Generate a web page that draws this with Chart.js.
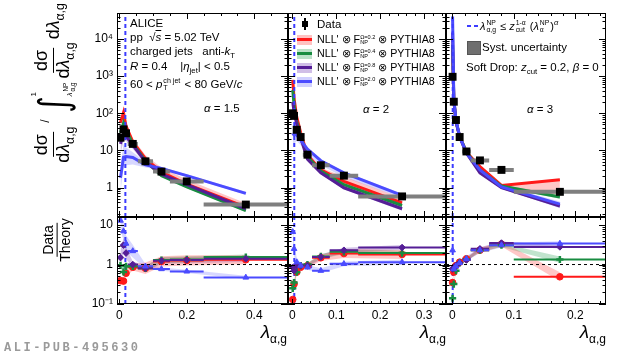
<!DOCTYPE html>
<html><head><meta charset="utf-8">
<script src="https://cdn.jsdelivr.net/npm/chart.js@4.4.1/dist/chart.umd.min.js"></script>
<style>
html,body{margin:0;padding:0;background:#fff;}
#wrap{position:relative;width:620px;height:357px;overflow:hidden;font-family:'Liberation Sans',Arial,Helvetica,sans-serif;color:#000;background:#fff}
#wrap canvas{position:absolute;left:0;top:0}
.t{position:absolute;white-space:nowrap;line-height:1;z-index:5;font-size:11.5px}
sub,sup{line-height:0;font-size:0.68em}
.ss{display:inline-flex;flex-direction:column;vertical-align:middle;font-size:0.62em;line-height:1.0;margin:0 1px}
.t.lg{font-size:10.7px}
.lg .ss{font-size:0.52em;margin:0}
.frac{display:inline-flex;flex-direction:column;align-items:center;vertical-align:middle;line-height:1.1}
.frac>span:first-child{border-bottom:1.3px solid #000;padding:0 2px 1px}
.lbox{position:absolute;width:15px;height:10px;z-index:5}
.lbox i{position:absolute;left:0;right:0;top:3.5px;height:3px}
</style></head>
<body><div id="wrap">
<!-- top-left annotations -->
<div class="t" style="left:130px;top:18px">ALICE</div>
<div class="t" style="left:130px;top:32px">pp &nbsp;√<span style="text-decoration:overline"><i>s</i></span> = 5.02 TeV</div>
<div class="t" style="left:130px;top:46px">charged jets &nbsp; anti-<i>k</i><sub>T</sub></div>
<div class="t" style="left:130px;top:60.5px"><i>R</i> = 0.4 &nbsp;&nbsp; |<i>η</i><sub>jet</sub>| &lt; 0.5</div>
<div class="t" style="left:130px;top:78px">60 &lt; <i>p</i><span class="ss"><span>ch jet</span><span>T</span></span> &lt; 80 GeV/<i>c</i></div>
<div class="t" style="left:204px;top:103px"><i>α</i> = 1.5</div>
<div class="t" style="left:363px;top:104px"><i>α</i> = 2</div>
<div class="t" style="left:527px;top:104px"><i>α</i> = 3</div>
<!-- legend middle -->
<div style="position:absolute;left:302px;top:21px;width:6px;height:6px;background:#000;z-index:5"></div>
<div style="position:absolute;left:304px;top:18px;width:2px;height:12px;background:#000;z-index:5"></div>
<div class="t" style="left:317px;top:18.5px">Data</div>
<div class="lbox" style="left:297px;top:34.5px;background:rgba(255,80,80,0.35)"><i style="background:rgb(255,25,25)"></i></div>
<div class="t lg" style="left:317px;top:34px">NLL' ⊗ F<span class="ss"><span>Ω=0.2</span><span>NP</span></span> ⊗ PYTHIA8</div>
<div class="lbox" style="left:297px;top:48.5px;background:rgba(60,170,100,0.35)"><i style="background:rgb(25,140,65)"></i></div>
<div class="t lg" style="left:317px;top:48px">NLL' ⊗ F<span class="ss"><span>Ω=0.4</span><span>NP</span></span> ⊗ PYTHIA8</div>
<div class="lbox" style="left:297px;top:62.5px;background:rgba(120,70,185,0.35)"><i style="background:rgb(85,30,150)"></i></div>
<div class="t lg" style="left:317px;top:62px">NLL' ⊗ F<span class="ss"><span>Ω=0.8</span><span>NP</span></span> ⊗ PYTHIA8</div>
<div class="lbox" style="left:297px;top:76.5px;background:rgba(110,110,255,0.32)"><i style="background:rgb(75,75,255)"></i></div>
<div class="t lg" style="left:317px;top:76px">NLL' ⊗ F<span class="ss"><span>Ω=2.0</span><span>NP</span></span> ⊗ PYTHIA8</div>
<!-- legend right -->
<div style="position:absolute;left:467px;top:25px;width:4px;height:2px;background:rgb(60,60,255);z-index:5"></div>
<div style="position:absolute;left:474px;top:25px;width:4px;height:2px;background:rgb(60,60,255);z-index:5"></div>
<div class="t" style="left:480px;top:20px;font-size:11px"><i>λ</i><span class="ss"><span>NP</span><span>α,g</span></span> ≤ <i>z</i><span class="ss"><span>1-α</span><span>cut</span></span> (<i>λ</i><span class="ss"><span>NP</span><span>α</span></span>)<sup><i>α</i></sup></div>
<div style="position:absolute;left:467px;top:41px;width:12px;height:12px;background:#6f6f6f;border:1px solid #555;z-index:5"></div>
<div class="t" style="left:482px;top:41.7px">Syst. uncertainty</div>
<div class="t" style="left:466px;top:62px">Soft Drop: <i>z</i><sub>cut</sub> = 0.2, <i>β</i> = 0</div>
<!-- axis titles -->
<div id="ytitle" style="position:absolute;left:53px;top:83px;transform:translate(-50%,-50%) rotate(-90deg);display:flex;align-items:center;white-space:nowrap;font-size:18px;z-index:5">
  <span class="frac"><span>dσ</span><span>d<i>λ</i><sub>α,g</sub></span></span>
  <span style="font-size:12px;margin:0 4px;position:relative;top:-8px">/</span>
  <span style="display:inline-flex;align-items:center">
    <span style="font-size:40px;line-height:1;font-family:'DejaVu Sans',sans-serif;transform:scaleX(0.8)">∫</span>
    <span style="display:inline-flex;flex-direction:column;justify-content:space-between;height:46px;font-size:8px;line-height:1;margin-left:-2px"><span>1</span><span><i>λ</i><span class="ss" style="font-size:0.8em"><span>NP</span><span>α,g</span></span></span></span>
  </span>
  <span class="frac" style="margin-left:3px"><span>dσ</span><span>d<i>λ</i><sub>α,g</sub></span></span>
  <span style="margin-left:3px">d<i>λ</i><sub>α,g</sub></span>
</div>
<div class="frac" style="position:absolute;left:57px;top:240px;transform:translate(-50%,-50%) rotate(-90deg);font-size:14px;z-index:5;display:flex"><span>Data</span><span>Theory</span></div>
<div class="t" style="right:333px;top:322px;font-size:19px"><i>λ</i><sub style="font-size:12px">α,g</sub></div>
<div class="t" style="right:174px;top:322px;font-size:19px"><i>λ</i><sub style="font-size:12px">α,g</sub></div>
<div class="t" style="right:14px;top:322px;font-size:19px"><i>λ</i><sub style="font-size:12px">α,g</sub></div>
<div class="t" style="left:4px;top:342px;font-family:'Liberation Mono',monospace;font-weight:bold;font-size:12px;color:#9a9a9a;letter-spacing:2.55px">ALI-PUB-495630</div>
</div>
<script>
// ---------------- DATA ----------------
// alpha = 1.5
const edges_15 = [0, 0.007, 0.016, 0.025, 0.055, 0.1, 0.15, 0.25, 0.5];
const x_15 = [0.0035, 0.0125, 0.02, 0.04, 0.0775, 0.125, 0.2, 0.375];
const data_15 = [22, 37, 29, 15, 5.1, 2.7, 1.47, 0.35];
const thRed_15 = [56, 105, 45, 17, 6.0, 2.6, 1.25, 0.30];
const thRedLo_15 = [45, 85, 37, 14.5, 5.3, 2.3, 1.1, 0.27];
const thRedHi_15 = [66, 118, 55, 21, 7.6, 3.4, 1.65, 0.38];
const thGreen_15 = [30, 55, 35, 15, 5.2, 2.1, 1.05, 0.24];
const thGreenLo_15 = [26, 48, 31, 13.5, 4.8, 1.95, 0.97, 0.22];
const thGreenHi_15 = [34, 62, 39, 16.5, 5.6, 2.3, 1.14, 0.26];
const thPurple_15 = [15, 30, 24, 14, 5.0, 2.3, 1.2, 0.27];
const thPurpleLo_15 = [8, 18, 18, 11, 4.4, 2.1, 1.08, 0.24];
const thPurpleHi_15 = [22, 40, 30, 16, 5.6, 2.6, 1.35, 0.31];
const thBlue_15 = [1.85, 6.6, 6.9, 6.5, 4.1, 3.3, 2.1, 0.70];
const thBlueLo_15 = [0.8, 3.2, 4.0, 4.2, 3.5, 2.95, 1.95, 0.64];
const thBlueHi_15 = [4, 15, 12, 9, 5.0, 3.6, 2.3, 0.78];
const rRed_15 = [0.39, 0.38, 0.6, 0.85, 0.8, 1.2, 1.27, 1.32];
const rGreen_15 = [0.95, 0.65, 0.9, 0.9, 0.8, 1.3, 1.35, 1.55];
const rPurple_15 = [1.5, 3.1, 1.95, 1.0, 0.8, 1.25, 1.3, 1.4];
const rBlue_15 = [13, 7, 3.4, 2.2, 0.9, 0.77, 0.67, 0.47];
const uRed_15 = [1.25, 1.25, 1.25, 1.2, 1.4, 1.35, 1.35, 1.3];
const uGreen_15 = [1.15, 1.15, 1.1, 1.1, 1.15, 1.2, 1.2, 1.15];
const uPurple_15 = [1.6, 1.5, 1.4, 1.2, 1.2, 1.2, 1.2, 1.2];
const uBlue_15 = [1.7, 1.7, 1.6, 1.45, 1.15, 1.1, 1.1, 1.1];
const cut_15 = 0.018;

// alpha = 2
const edges_2 = [0, 0.002, 0.006, 0.014, 0.024, 0.045, 0.085, 0.15, 0.35];
const x_2 = [0.001, 0.004, 0.01, 0.019, 0.0345, 0.065, 0.1175, 0.25];
const data_2 = [100, 85, 36, 23, 7.7, 4.0, 2.1, 0.58];
const thRed_2 = [790, 250, 80, 30, 7.5, 3.0, 1.47, 0.39];
const thRedLo_2 = [650, 200, 65, 25, 6.8, 2.7, 1.3, 0.35];
const thRedHi_2 = [900, 300, 95, 35, 8.5, 3.4, 2.0, 0.52];
const thGreen_2 = [420, 170, 60, 25, 6.8, 2.8, 1.2, 0.33];
const thGreenLo_2 = [380, 150, 54, 22, 6.2, 2.6, 1.1, 0.3];
const thGreenHi_2 = [470, 190, 67, 28, 7.4, 3.0, 1.35, 0.36];
const thPurple_2 = [200, 110, 50, 22, 5.8, 2.5, 0.99, 0.27];
const thPurpleLo_2 = [160, 90, 42, 19, 5.2, 2.3, 0.9, 0.24];
const thPurpleHi_2 = [240, 130, 58, 25, 6.4, 2.7, 1.1, 0.3];
const thBlue_2 = [25, 28, 26, 19, 10.9, 5.3, 2.5, 0.62];
const thBlueLo_2 = [12, 15, 18, 14, 8, 4.0, 1.9, 0.52];
const thBlueHi_2 = [35, 38, 34, 23, 12, 5.8, 2.7, 0.68];
const rRed_2 = [0.13, 0.32, 0.64, 0.85, 0.94, 1.48, 1.9, 1.8];
const rGreen_2 = [0.25, 0.35, 0.64, 0.94, 1.0, 1.6, 2.1, 1.95];
const rPurple_2 = [0.85, 0.7, 0.94, 0.94, 0.94, 1.55, 2.3, 2.7];
const rBlue_2 = [6.7, 2.5, 1.15, 0.94, 0.85, 0.7, 1.04, 1.15];
const uRed_2 = [1.2, 1.2, 1.2, 1.15, 1.15, 1.2, 1.3, 1.3];
const uGreen_2 = [1.15, 1.15, 1.1, 1.1, 1.1, 1.15, 1.15, 1.15];
const uPurple_2 = [1.2, 1.2, 1.15, 1.1, 1.1, 1.15, 1.15, 1.15];
const uBlue_2 = [1.6, 1.5, 1.3, 1.2, 1.15, 1.15, 1.15, 1.15];
const cut_2 = 0.0045;

// alpha = 3
const edges_3 = [0, 0.001, 0.004, 0.008, 0.016, 0.03, 0.06, 0.1, 0.25];
const x_3 = [0.0005, 0.0025, 0.006, 0.012, 0.023, 0.045, 0.08, 0.175];
const data_3 = [960, 205, 66, 23, 9.4, 5.4, 3.0, 0.77];
const thRed_3 = [5000, 230, 62, 24, 9.0, 3.7, 1.15, 1.64];
const thRedLo_3 = [4000, 200, 55, 21, 8.0, 3.3, 1.0, 0.62];
const thRedHi_3 = [6000, 260, 70, 27, 10, 4.1, 1.2, 1.7];
const thGreen_3 = [7000, 230, 62, 24, 9.0, 3.0, 1.1, 0.56];
const thGreenLo_3 = [6000, 210, 57, 22, 8.2, 2.7, 1.0, 0.5];
const thGreenHi_3 = [8000, 250, 67, 26, 9.8, 3.3, 1.2, 0.64];
const thPurple_3 = [15000, 220, 60, 23, 8.5, 2.5, 1.0, 0.32];
const thPurpleLo_3 = [12000, 200, 55, 21, 7.8, 2.3, 0.92, 0.29];
const thPurpleHi_3 = [18000, 240, 65, 25, 9.2, 2.7, 1.08, 0.35];
const thBlue_3 = [40000, 250, 65, 24, 8.5, 3.0, 1.05, 0.36];
const thBlueLo_3 = [30000, 220, 58, 21, 7.5, 2.7, 0.95, 0.28];
const thBlueHi_3 = [50000, 280, 72, 27, 9.5, 3.3, 1.15, 0.42];
const rRed_3 = [0.35, 0.64, 0.94, 1.15, 1.4, 2.3, 3.3, 0.49];
const rGreen_3 = [0.14, 0.32, 0.7, 1.1, 1.35, 2.3, 3.1, 1.34];
const rPurple_3 = [0.77, 0.85, 0.94, 1.1, 1.3, 2.5, 3.5, 2.8];
const rBlue_3 = [2.3, 0.77, 0.9, 1.1, 1.4, 2.3, 3.1, 3.4];
const uRed_3 = [1.15, 1.15, 1.1, 1.1, 1.1, 1.15, 1.15, 1.3];
const uGreen_3 = [1.1, 1.1, 1.1, 1.1, 1.1, 1.1, 1.12, 1.2];
const uPurple_3 = [1.15, 1.1, 1.1, 1.1, 1.1, 1.1, 1.1, 1.1];
const uBlue_3 = [1.5, 1.3, 1.2, 1.15, 1.15, 1.15, 1.15, 1.15];
const cut_3 = 0.0007;

const yTicksTop = [1, 10, 100, 1000, 10000];
const yTicksBot = [0.1, 1, 10];
const xTicks_15 = [0, 0.2, 0.4];
const xTicks_2 = [0, 0.1, 0.2, 0.3];
const xTicks_3 = [0, 0.1, 0.2];

// ---------------- STYLE / HELPERS ----------------
const FONT = "'Liberation Sans', Arial, sans-serif";
const C = {red:'rgb(255,25,25)', green:'rgb(25,140,65)', purple:'rgb(85,30,150)', blue:'rgb(75,75,255)'};
const B = {red:'rgba(255,80,80,0.32)', green:'rgba(60,170,100,0.32)', purple:'rgba(120,70,185,0.32)', blue:'rgba(110,110,255,0.28)'};
const SHAPE = {red:'circle', green:'cross', purple:'rectRot', blue:'triangle'};
const pts = (xs, ys) => xs.map((x,i)=>({x, y:ys[i]}));
const segs = (e, ys) => ys.flatMap((y,i)=>[{x:e[i],y},{x:e[i+1],y},{x:e[i+1],y:null}]);

function bandPair(xs, lo, hi, col, order){
  return [
    {data:pts(xs,hi), borderColor:'transparent', borderWidth:0, pointRadius:0, fill:false, order},
    {data:pts(xs,lo), borderColor:'transparent', borderWidth:0, pointRadius:0, fill:'-1', backgroundColor:col, order}
  ];
}
function cutLine(cut, y0, y1){
  return {data:[{x:cut,y:y0},{x:cut,y:y1}], borderColor:'rgb(60,60,255)', borderWidth:2, borderDash:[4,3], pointRadius:0, fill:false, order:3};
}
function topSets(xs, edges, data, series, cut, y0, y1){
  const ds=[];
  series.forEach(s=> ds.push(...bandPair(xs, s.lo, s.hi, B[s.k], 10)));
  series.forEach((s,i)=> ds.push({data:pts(xs,s.c), borderColor:C[s.k], borderWidth:3, pointRadius:0, fill:false, order:8-i}));
  ds.push(cutLine(cut, y0, y1));
  ds.push({data:segs(edges,data), borderColor:'#7f7f7f', borderWidth:4, pointRadius:0, fill:false, spanGaps:false, order:2});
  ds.push({data:pts(xs,data), showLine:false, pointStyle:'rect', pointRadius:5.6, backgroundColor:'#000', borderColor:'#000', borderWidth:0, order:1});
  return ds;
}
function ratSets(xs, edges, series, cut, y0, y1, xmin, xmax){
  const ds=[];
  series.forEach(s=> ds.push(...bandPair(xs, s.r.map((v,i)=>v/s.u[i]), s.r.map((v,i)=>v*s.u[i]), B[s.k], 10)));
  ds.push({data:[{x:xmin,y:1},{x:xmax,y:1}], borderColor:'#000', borderWidth:1, borderDash:[3,3], pointRadius:0, fill:false, order:9});
  series.forEach((s,i)=> ds.push({data:segs(edges,s.r), borderColor:C[s.k], borderWidth:2, pointRadius:0, fill:false, spanGaps:false, order:8-i}));
  ds.push(cutLine(cut, y0, y1));
  series.forEach((s,i)=> ds.push({data:pts(xs,s.r), showLine:false, pointStyle:SHAPE[s.k],
    pointRadius: s.k==='green'?3.6:3.3, backgroundColor:C[s.k], borderColor:C[s.k], borderWidth: s.k==='green'?2.5:1, order:1.4-i*0.1}));
  return ds;
}

const framePlugin = {
  id:'frame',
  afterDatasetsDraw(chart, args, o){
    const {ctx, chartArea:a} = chart; const x=chart.scales.x, y=chart.scales.y;
    ctx.save(); ctx.strokeStyle='#000'; ctx.lineWidth=1; ctx.setLineDash([]); ctx.beginPath();
    const n = Math.floor(x.max/o.xMinor + 1e-6);
    for(let i=0;i<=n;i++){
      const v=i*o.xMinor; const px=Math.round(x.getPixelForValue(v))+0.5;
      const r=v/o.xMajor; const L = Math.abs(r-Math.round(r))<1e-6 ? o.xMajLen : o.xMinLen;
      ctx.moveTo(px,a.bottom); ctx.lineTo(px,a.bottom-L); ctx.moveTo(px,a.top); ctx.lineTo(px,a.top+L);
    }
    const d0=Math.floor(Math.log10(y.min)), d1=Math.ceil(Math.log10(y.max));
    for(let d=d0; d<=d1; d++) for(let k=1;k<=9;k++){
      const v=k*Math.pow(10,d); if(v<y.min*0.9999||v>y.max*1.0001) continue;
      const py=Math.round(y.getPixelForValue(v))+0.5; const L=k===1?o.yMajLen:o.yMinLen;
      ctx.moveTo(a.left,py); ctx.lineTo(a.left+L,py); ctx.moveTo(a.right,py); ctx.lineTo(a.right-L,py);
    }
    ctx.stroke();
    ctx.strokeRect(Math.round(a.left)+0.5, Math.round(a.top)+0.5, Math.round(a.right-a.left)-1, Math.round(a.bottom-a.top)-1);
    ctx.restore();
  }
};
Chart.register(framePlugin);

function logLabel(v){
  const e = Math.round(Math.log10(v));
  if (e === 0) return '1';
  if (e === 1) return '10';
  const sup = {'-':'⁻','1':'¹','2':'²','3':'³','4':'⁴','5':'⁵'};
  return '10' + String(e).split('').map(c=>sup[c]).join('');
}

function build(frame, xr, xLab, xMinor, xMajor, yr, yLab, showX, showY, datasets, isTop){
  const c = document.createElement('canvas');
  c.width=620; c.height=357;
  document.getElementById('wrap').appendChild(c);
  const yW = frame[0], xH = 357-frame[3];
  new Chart(c.getContext('2d'), {
    type:'line',
    data:{datasets},
    options:{
      animation:false, responsive:false, maintainAspectRatio:false, events:[],
      layout:{autoPadding:false, padding:{left:0, top:frame[1], right:620-frame[2], bottom:0}},
      plugins:{legend:{display:false}, tooltip:{enabled:false},
        frame:{xMinor, xMajor, xMajLen: isTop?6:5, xMinLen:3, yMajLen:7, yMinLen:3.5}},
      elements:{line:{tension:0}},
      scales:{
        x:{type:'linear', min:xr[0], max:xr[1], grid:{display:false, drawTicks:false, tickLength:0}, border:{display:false},
          afterBuildTicks:s=>{ s.ticks = xLab.map(v=>({value:v})); },
          afterFit:s=>{ s.height=xH; },
          ticks:{display:showX, autoSkip:false, maxRotation:0, minRotation:0, padding:4, color:'#000',
            font:{family:FONT, size:12}, callback:v=>String(v)}},
        y:{type:'logarithmic', min:yr[0], max:yr[1], grid:{display:false, drawTicks:false, tickLength:0}, border:{display:false},
          afterBuildTicks:s=>{ s.ticks = yLab.map(v=>({value:v})); },
          afterFit:s=>{ s.width=yW; },
          ticks:{display:showY, autoSkip:false, padding:4, color:'#000', font:{family:FONT, size:12}, callback:v=>logLabel(v)}}
      }
    }
  });
}

const TOPY=[0.162, 50000], BOTY=[0.1, 16];
const T0=13, T1=217, B1=304;
const panels = [
  {l:117, r:288, xr:[-0.0068,0.5], xl:xTicks_15, mi:0.05, ma:0.2, x:x_15, e:edges_15, d:data_15, cut:cut_15, showY:true,
   th:[{k:'red',c:thRed_15,lo:thRedLo_15,hi:thRedHi_15},{k:'green',c:thGreen_15,lo:thGreenLo_15,hi:thGreenHi_15},
       {k:'purple',c:thPurple_15,lo:thPurpleLo_15,hi:thPurpleHi_15},{k:'blue',c:thBlue_15,lo:thBlueLo_15,hi:thBlueHi_15}],
   ra:[{k:'red',r:rRed_15,u:uRed_15},{k:'green',r:rGreen_15,u:uGreen_15},{k:'purple',r:rPurple_15,u:uPurple_15},{k:'blue',r:rBlue_15,u:uBlue_15}]},
  {l:288, r:446, xr:[-0.0098,0.35], xl:xTicks_2, mi:0.02, ma:0.1, x:x_2, e:edges_2, d:data_2, cut:cut_2, showY:false,
   th:[{k:'red',c:thRed_2,lo:thRedLo_2,hi:thRedHi_2},{k:'green',c:thGreen_2,lo:thGreenLo_2,hi:thGreenHi_2},
       {k:'purple',c:thPurple_2,lo:thPurpleLo_2,hi:thPurpleHi_2},{k:'blue',c:thBlue_2,lo:thBlueLo_2,hi:thBlueHi_2}],
   ra:[{k:'red',r:rRed_2,u:uRed_2},{k:'green',r:rGreen_2,u:uGreen_2},{k:'purple',r:rPurple_2,u:uPurple_2},{k:'blue',r:rBlue_2,u:uBlue_2}]},
  {l:446, r:606, xr:[-0.0102,0.25], xl:xTicks_3, mi:0.02, ma:0.1, x:x_3, e:edges_3, d:data_3, cut:cut_3, showY:false,
   th:[{k:'red',c:thRed_3,lo:thRedLo_3,hi:thRedHi_3},{k:'green',c:thGreen_3,lo:thGreenLo_3,hi:thGreenHi_3},
       {k:'purple',c:thPurple_3,lo:thPurpleLo_3,hi:thPurpleHi_3},{k:'blue',c:thBlue_3,lo:thBlueLo_3,hi:thBlueHi_3}],
   ra:[{k:'red',r:rRed_3,u:uRed_3},{k:'green',r:rGreen_3,u:uGreen_3},{k:'purple',r:rPurple_3,u:uPurple_3},{k:'blue',r:rBlue_3,u:uBlue_3}]}
];
panels.forEach(p=>{
  build([p.l,T0,p.r,T1], p.xr, p.xl, p.mi, p.ma, TOPY, yTicksTop, false, p.showY,
        topSets(p.x, p.e, p.d, p.th, p.cut, TOPY[0], TOPY[1]), true);
  build([p.l,T1,p.r,B1], p.xr, p.xl, p.mi, p.ma, BOTY, yTicksBot, true, p.showY,
        ratSets(p.x, p.e, p.ra, p.cut, BOTY[0], BOTY[1], p.xr[0], p.xr[1]), false);
});
</script>
</body></html>
